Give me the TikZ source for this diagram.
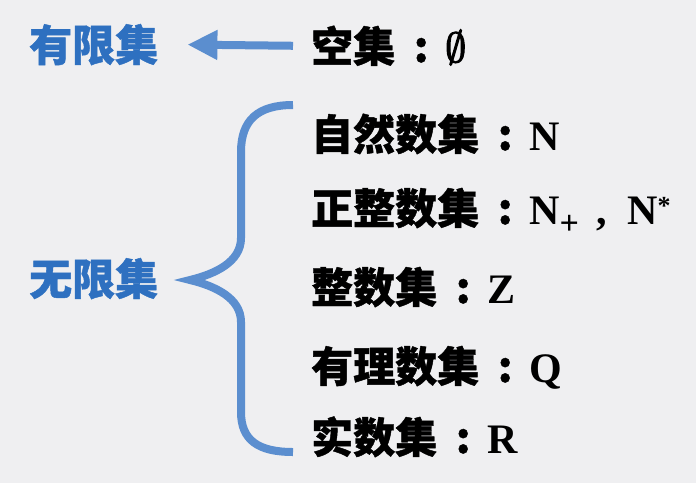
\documentclass[tikz,border=0pt]{standalone}
\usepackage{fontspec}
\setmainfont{Liberation Serif}
\newfontfamily\cjk[BoldFeatures={FakeBold=1}]{Noto Sans CJK SC}
\newfontfamily\lmmath[FakeBold=3]{Latin Modern Math}
\newcommand\setcolon{\makebox[50pt]{\hspace{2pt}\cjk :}}
\usetikzlibrary{arrows.meta}
\definecolor{setblue}{HTML}{2E70C0}
\definecolor{lineblue}{HTML}{5B8ECF}
\definecolor{paper}{HTML}{EFEFF1}

\begin{document}
\begin{tikzpicture}[x=1pt, y=-1pt,
    setname/.style={anchor=base west, inner sep=0pt, text=setblue, font=\cjk\bfseries\fontsize{43}{48}\selectfont},
    member/.style={anchor=base west, inner sep=0pt, font=\bfseries\fontsize{42}{48}\selectfont},
    bluestroke/.style={draw=lineblue, line width=8pt}]

% 背景
\fill[paper] (0,0) rectangle (696,483);
\useasboundingbox (0,0) rectangle (696,483);

% 有限集 / 无限集 (左)
\node[setname] (finite) at (29,61) {有限集};
\node[setname] (infinite) at (29,295) {无限集};

% 各个集合 (右)
\node[member] (empty) at (311,62) {{\cjk 空集}\setcolon{\lmmath ∅}};
\node[member] (natural) at (311,150) {{\cjk 自然数集}\setcolon N};
\node[member] (positive) at (311,224) {{\cjk 正整数集}\setcolon N\raisebox{-10pt}{\fontsize{34}{34}\selectfont +}\hspace{18pt},\hspace{20pt}N\raisebox{10pt}{\fontsize{26}{26}\selectfont *}};
\node[member] (integer) at (311,303) {{\cjk 整数集}\setcolon Z};
\node[member] (rational) at (311,382) {{\cjk 有理数集}\setcolon Q};
\node[member] (real) at (311,453) {{\cjk 实数集}\setcolon R};

% 空集 -> 有限集
\draw[bluestroke, -{Triangle[length=30pt, width=28pt]}] ([xshift=-18pt]empty.west) -- ([xshift=29pt]finite.east);

% 大括号
\coordinate (bracetop) at (293,105);
\coordinate (bracetip) at (190,280);
\coordinate (bracebot) at (293,452);
\draw[bluestroke] (bracetop) .. controls (258,105) and (241,120) .. (241,152)
    -- (241,238) .. controls (241,262) and (215,274) .. (bracetip)
    .. controls (215,286) and (241,298) .. (241,322)
    -- (241,412) .. controls (241,440) and (258,452) .. (bracebot);

\end{tikzpicture}
\end{document}
